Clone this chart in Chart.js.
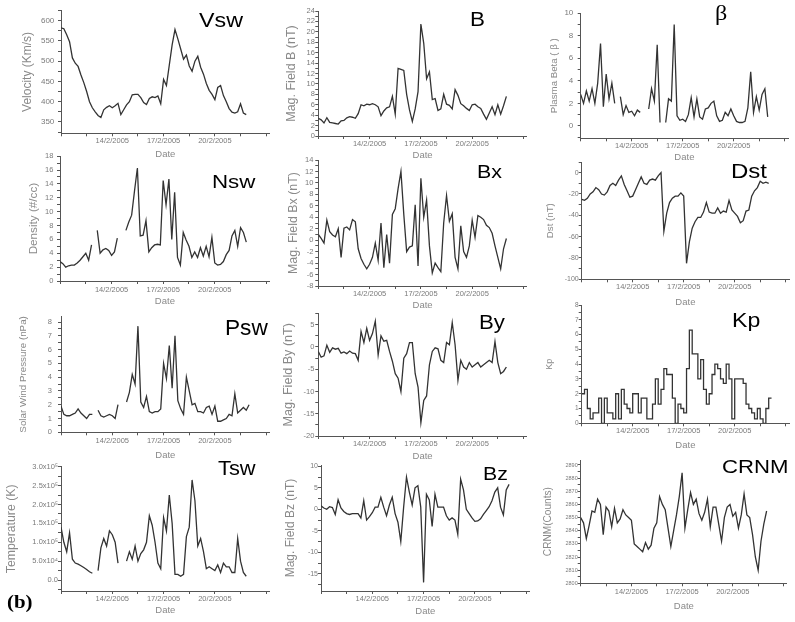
<!DOCTYPE html>
<html>
<head>
<meta charset="utf-8">
<title>Solar wind parameters, February 2005</title>
<script src="https://cdn.jsdelivr.net/npm/chart.js@4/dist/chart.umd.min.js"></script>
<style>
    body { margin: 0; background: #fff; }
    #wrap { position: relative; width: 795px; height: 622px; overflow: hidden; background: #fff; }
    #wrap canvas { position: absolute; }
    .tag { position: absolute; line-height: 1; color: #000; white-space: nowrap; transform-origin: 0 0;
           font-family: "Liberation Sans", Arial, sans-serif; }
</style>
</head>
<body>
<div id="wrap"></div>
<script>
// samples are 4-hourly, first one at 11/2/2005 00:00 (x axis is day of February)
var t0 = 11, dt = 1 / 6;
var dateTicks = [14, 17, 20];
var dateLabels = ['14/2/2005', '17/2/2005', '20/2/2005'];
var xTickValues = [11, 12.5, 14, 15.5, 17, 18.5, 20, 21.5, 23];

var vsw = [582, 580, 565, 548, 508, 495, 487, 466, 447, 425,
    400, 385, 375, 366, 361, 380, 386, 390, 385, 390,
    396, 368, 380, 392, 400, 417, 418, 418, 410, 398,
    393, 408, 412, 410, 414, 395, 455, 440, 490, 540,
    578, 555, 530, 505, 515, 488, 475, 500, 512, 485,
    468, 445, 428, 418, 405, 435, 440, 415, 400, 383,
    374, 372, 375, 395, 372, 368, null];

var bMag = [3.4, 3.1, 2.5, 3.5, 2.6, 2.5, 2.4, 2.3, 2.9, 3.0,
    3.5, 3.7, 3.6, 3.4, 4.3, 6.0, 5.8, 6.1, 6.0, 6.2,
    6.0, 5.6, 3.9, 4.8, 5.4, 5.6, 7.6, 4.2, 13.0, 12.8,
    12.6, 8.0, 5.0, 2.8, 5.2, 8.5, 21.5, 17.8, 11.0, 12.3,
    7.0, 7.2, 4.9, 5.2, 8.0, 6.1, 5.9, 5.2, 8.9, 7.8,
    6.2, 5.8, 5.3, 4.9, 6.0, 6.1, 5.6, 5.3, 4.2, 3.2,
    4.4, 5.6, 4.1, 6.0, 4.2, 5.8, 7.6];

var beta = [2.8, 2.0, 3.1, 2.2, 3.3, 2.0, 3.8, 7.3, 1.7, 4.6,
    2.4, 3.8, 2.0, null, 2.6, 1.0, 1.8, 1.2, 1.3, 0.9,
    1.4, 1.2, null, null, 1.5, 3.3, 2.2, 7.2, 0.3, null,
    0.3, 2.4, 2.2, 9.0, 0.9, 0.5, 0.6, 0.4, 1.0, 2.5,
    0.8, 2.4, 0.8, 0.6, 1.5, 1.6, 2.0, 2.2, 0.9, 0.4,
    0.5, 1.2, 0.9, 1.5, 0.9, 0.4, 0.3, 0.3, 0.4, 1.6,
    4.8, 1.2, 2.6, 1.4, 2.8, 3.3, 0.8];

var nsw = [2.8, 2.5, 2.0, 2.2, 2.3, 2.3, 2.6, 3.0, 3.5, 4.0,
    3.0, 5.2, null, 7.3, 4.0, 4.5, 4.7, 4.4, 3.7, 4.2,
    6.2, null, null, 7.3, 8.5, 9.5, 13.0, 16.3, 6.5, 6.6,
    8.7, 4.2, 4.8, 5.2, 5.3, 5.2, 14.5, 11.0, 14.7, 6.0,
    12.8, 3.4, 2.3, 7.0, 5.9, 5.0, 3.4, 4.2, 3.4, 4.8,
    3.6, 5.0, 3.5, 6.3, 2.6, 2.3, 2.4, 2.8, 3.8, 4.4,
    6.5, 7.3, 5.0, 7.7, 7.0, 5.6, null];

var bx = [1.0, 0.3, -0.5, 3.5, 1.5, 0.9, 0.6, 2.0, -3.0, 2.1,
    2.3, 1.8, 3.6, 3.2, -1.5, -3.2, -4.2, -5.0, -4.2, -3.0,
    -0.5, -3.5, 3.0, -4.8, 1.0, -4.0, 4.5, 5.5, 9.0, 12.0,
    4.5, -2.0, -1.2, -1.0, 6.2, -4.5, 10.8, 4.0, 7.0, -1.0,
    -5.7, -4.0, -4.8, -5.5, 3.0, 7.8, 3.3, 4.6, -3.0, -5.0,
    2.5, -2.0, -3.0, -1.0, 3.5, 0.5, 4.3, 4.0, 3.6, 2.6,
    2.2, 1.2, -1.0, -3.0, -5.0, -1.5, 0.3];

var dst = [-25, -26, -24, -20, -18, -14, -16, -20, -21, -18,
    -12, -10, -12, -7, -3, -11, -17, -23, -22, -16,
    -10, -4, -10, -11, -7, -6, -7, -3, 0, -55,
    -38, -28, -24, -22, -22, -19, -22, -85, -65, -52,
    -46, -42, -42, -37, -28, -37, -38, -38, -33, -38,
    -36, -37, -26, -35, -38, -41, -47, -45, -36, -35,
    -22, -17, -14, -8, -10, -9, -10];

var psw = [1.9, 1.3, 1.2, 1.2, 1.3, 1.4, 1.7, 1.4, 1.2, 1.0,
    1.3, 1.3, null, 1.6, 1.2, 1.1, 1.2, 1.3, 1.2, 1.0,
    2.0, null, null, 2.2, 2.9, 4.2, 3.5, 7.7, 2.2, 1.8,
    2.6, 1.5, 1.4, 1.5, 1.5, 1.7, 5.0, 3.9, 6.3, 3.2,
    7.0, 2.3, 1.7, 1.3, 4.0, 3.0, 2.0, 2.1, 1.5, 1.5,
    1.4, 1.8, 1.9, 1.3, 1.9, 0.8, 0.8, 0.9, 1.0, 1.3,
    1.2, 2.8, 1.4, 1.6, 1.8, 1.6, 2.0];

var by = [-1.0, -2.3, -2.0, 0.4, -1.2, -0.2, -0.5, -0.3, -1.4, -1.1,
    -1.5, -0.9, -1.4, -1.5, -3.0, 3.5, 1.0, 4.2, 1.5, 3.0,
    5.8, -1.8, 2.5, 1.3, 1.5, -1.0, -3.2, -6.0, -7.0, -10.0,
    -2.5, -1.5, 1.0, 1.0, -6.0, -9.0, -17.0, -12.0, -11.0, -4.0,
    -1.0, -0.2, -0.4, -3.0, -3.5, 1.0, 0.5, 5.5, 0.5, -7.5,
    -3.0, -4.5, -5.0, -3.5, -4.5, -4.0, -3.5, -4.5, -4.0, -3.5,
    -3.0, -3.5, 1.2, -3.5, -6.0, -5.5, -4.5];

var kp = [2.0, 2.3, 1.0, 0.3, 0.7, 0.7, 1.7, 0, 1.7, 0.7,
    0.7, 0.3, 2.0, 0.3, 2.3, 1.3, 1.0, 0.7, 2.0, 2.0,
    0.7, 1.7, 1.7, 0.3, 0.3, 1.3, 3.0, 1.3, 2.3, 3.7,
    3.3, 3.3, 1.7, 0, 1.3, 1.0, 0.7, 3.7, 6.3, 4.7,
    4.7, 3.0, 4.3, 2.3, 1.3, 2.0, 3.3, 4.0, 3.7, 3.0,
    2.7, 4.0, 3.0, 0.3, 3.0, 3.0, 3.0, 2.7, 1.3, 1.0,
    0.7, 0.3, 1.0, 0.3, 0.0, 1.0, 1.7, 1.7];

var tsw = [140000, 100000, 75000, 125000, 55000, 45000, 42000, 38000, 33000, 28000,
    22000, 18000, null, 25000, 85000, 110000, 90000, 130000, 120000, 100000,
    45000, null, null, 50000, 75000, 55000, 90000, 50000, 70000, 80000,
    100000, 170000, 145000, 100000, 45000, 30000, 165000, 130000, 225000, 150000,
    15000, 15000, 10000, 15000, 115000, 140000, 265000, 210000, 90000, 110000,
    75000, 30000, 35000, 30000, 25000, 40000, 20000, 45000, 35000, 35000,
    20000, 20000, 110000, 50000, 20000, 10000, null];

var bz = [0.8, 0.3, 0.0, 0.6, 0.4, -1.2, 2.2, 0.3, -0.5, -1.0,
    -1.2, -1.0, -1.0, -1.0, -2.0, 2.0, -2.5, -1.7, -0.8, 0.5,
    0.5, 2.8, 0.5, -1.5, 1.0, 2.8, -1.0, -3.0, -7.5, 0.5,
    7.5, 4.0, 1.0, 5.0, 5.5, 0.5, -17.0, 3.5, 2.2, -4.0,
    3.5, 0.5, 0.5, 0.5, -1.5, -2.5, -2.0, -2.5, -5.8, 7.0,
    4.5, 0.0, -1.0, -2.0, -2.8, -2.7, -2.2, -1.2, -0.3, 0.6,
    2.0, 4.0, 5.0, 0.5, -1.3, 4.5, 5.8];

var crnm = [2850, 2846, 2834, 2844, 2855, 2854, 2864, 2860, 2837, 2858,
    2855, 2843, 2857, 2846, 2849, 2856, 2852, 2850, 2848, 2830,
    2828, 2826, 2824, 2831, 2826, 2829, 2842, 2846, 2866, 2860,
    2856, 2842, 2828, 2840, 2852, 2866, 2884, 2842, 2856, 2869,
    2860, 2864, 2853, 2848, 2854, 2864, 2843, 2858, 2858, 2845,
    2832, 2850, 2858, 2860, 2851, 2854, 2842, 2852, 2868, 2852,
    2850, 2837, 2820, 2810, 2832, 2845, 2855];

// where each panel sits on the page (plot box in page pixels) and its y axis
var panels = [
    {series: vsw, yTitle: 'Velocity (Km/s)', min: 322, max: 625, major: 50, minor: 25,
        col: 0, cw: 272, left: 61, right: 269.6, top: 10, bottom: 133.3,
        labelY: 140.5, dateY: 154, titleX: 27.7, titleSize: 12, yGap: 6.7, tickSize: 8},
    {series: bMag, yTitle: 'Mag. Field B (nT)', min: 0, max: 24, major: 2, minor: 1,
        col: 265, cw: 270, left: 318.3, right: 526.9, top: 11, bottom: 136,
        labelY: 142, dateY: 155, titleX: 291.7, titleSize: 12.5, yGap: 3.5, tickSize: 7.5},
    {series: beta, yTitle: 'Plasma Beta ( \u03b2 )', min: -1.1, max: 10, major: 2, minor: 1,
        col: 530, cw: 265, left: 580.7, right: 788.1, top: 12.3, bottom: 138.3,
        labelY: 146, dateY: 157, titleX: 554, titleSize: 9.7, yGap: 7.4, tickSize: 8},
    {series: nsw, yTitle: 'Density (#/cc)', min: 0, max: 18, major: 2, minor: 1,
        col: 0, cw: 272, left: 60, right: 269.8, top: 156, bottom: 281,
        labelY: 290, dateY: 301.7, titleX: 33.3, titleSize: 11.7, yGap: 6.7, tickSize: 7.5},
    {series: bx, yTitle: 'Mag. Field Bx (nT)', min: -8, max: 14, major: 2, minor: 1,
        col: 265, cw: 270, left: 318.3, right: 526.9, top: 160, bottom: 286,
        labelY: 291.7, dateY: 305, titleX: 293.3, titleSize: 12.4, yGap: 5, tickSize: 7.5},
    {series: dst, yTitle: 'Dst (nT)', min: -100, max: 10, major: 20, minor: 10,
        col: 530, cw: 265, left: 581.7, right: 789.1, top: 162, bottom: 279.3,
        labelY: 286.7, dateY: 302.7, titleX: 550.7, titleSize: 9.7, yGap: 3, tickSize: 7},
    {series: psw, yTitle: 'Solar Wind Pressure (nPa)', min: 0, max: 8.4, major: 1, minor: 0.5,
        col: 0, cw: 272, left: 61, right: 269.6, top: 314, bottom: 432.3,
        labelY: 441, dateY: 455, titleX: 23.3, titleSize: 9.8, yGap: 9, tickSize: 7.5},
    {series: by, yTitle: 'Mag. Field By (nT)', min: -20, max: 7.5, major: 5, minor: 2.5,
        col: 265, cw: 270, left: 318.3, right: 526.9, top: 313.6, bottom: 436,
        labelY: 442.7, dateY: 456, titleX: 289, titleSize: 12.6, yGap: 4, tickSize: 7.5},
    {series: kp, yTitle: 'Kp', min: 0, max: 8, major: 1, minor: 0.5,
        col: 530, cw: 265, left: 581.7, right: 789.1, top: 305, bottom: 423.3,
        labelY: 430.7, dateY: 445.3, titleX: 550, titleSize: 9, yGap: 3, tickSize: 6.5, stepped: true},
    {series: tsw, yTitle: 'Temperature (K)', min: -29000, max: 300000, major: 50000, minor: 25000,
        col: 0, cw: 272, left: 61, right: 269.6, top: 466.7, bottom: 591,
        labelY: 596.7, dateY: 610, titleX: 11.7, titleSize: 12.3, yGap: 2.7, tickSize: 7.5, sci: true},
    {series: bz, yTitle: 'Mag. Field Bz (nT)', min: -19, max: 10.3, major: 5, minor: 2.5,
        col: 265, cw: 270, left: 321, right: 529.6, top: 465, bottom: 591,
        labelY: 598.3, dateY: 611.7, titleX: 291, titleSize: 12, yGap: 2.7, tickSize: 7},
    {series: crnm, yTitle: 'CRNM(Counts)', min: 2800, max: 2893.8, major: 10, minor: 5,
        col: 530, cw: 265, left: 580.7, right: 786.9, top: 460, bottom: 583.3,
        labelY: 591.7, dateY: 606.7, titleX: 548.3, titleSize: 10.1, yGap: 2.7, tickSize: 5.5}
];

// big panel names
var tags = [
    {text: 'Vsw', x: 199, base: 27.3, size: 20.4, sx: 1.14},
    {text: 'B', x: 470, base: 26, size: 20, sx: 1.12},
    {text: '\u03b2', x: 715, base: 20.7, size: 21, sx: 1.15, serif: true},
    {text: 'Nsw', x: 211.7, base: 188.3, size: 18.6, sx: 1.2},
    {text: 'Bx', x: 476.7, base: 178.3, size: 18.6, sx: 1.15},
    {text: 'Dst', x: 730.7, base: 178.3, size: 20, sx: 1.2},
    {text: 'Psw', x: 225, base: 336, size: 22, sx: 1.03},
    {text: 'By', x: 479, base: 329.3, size: 20, sx: 1.11},
    {text: 'Kp', x: 731.7, base: 326.7, size: 21, sx: 1.1},
    {text: 'Tsw', x: 218, base: 475, size: 21, sx: 1.04},
    {text: 'Bz', x: 483, base: 481, size: 18.5, sx: 1.15},
    {text: 'CRNM', x: 721.7, base: 473.3, size: 18.6, sx: 1.19},
    {text: '(b)', x: 7.3, base: 608, size: 19, sx: 1.1, serif: true, bold: true}
];

var axisColor = '#555';
var textColor = '#7a7a7a';
var titleColor = '#8a8a8a';

Chart.defaults.font.family = '"Liberation Sans", Arial, sans-serif';

var SUP = {'0': '\u2070', '1': '\u00b9', '2': '\u00b2', '3': '\u00b3', '4': '\u2074',
    '5': '\u2075', '6': '\u2076', '7': '\u2077', '8': '\u2078', '9': '\u2079'};

function sciLabel(v) {
    if (v === 0) return '0.0';
    var e = Math.floor(Math.log10(v) + 1e-9);
    var m = v / Math.pow(10, e);
    return m.toFixed(1) + 'x10' + String(e).split('').map(function(c) { return SUP[c]; }).join('');
}

function isMajor(v, p) {
    var r = v / p.major;
    return Math.abs(r - Math.round(r)) < 1e-6;
}

function yTickList(p) {
    var out = [];
    var k0 = Math.ceil(p.min / p.minor - 1e-9),
        k1 = Math.floor(p.max / p.minor + 1e-9);
    for (var k = k0; k <= k1; k++) {
        out.push({value: +(k * p.minor).toFixed(6)});
    }
    return out;
}

function makePanel(p) {
    var wrap = document.getElementById('wrap');
    var cTop = Math.round(p.top - 8);
    var H = Math.round(p.dateY + 9 - cTop);
    var canvas = document.createElement('canvas');
    canvas.width = p.cw;
    canvas.height = H;
    canvas.style.left = p.col + 'px';
    canvas.style.top = cTop + 'px';
    canvas.style.width = p.cw + 'px';
    canvas.style.height = H + 'px';
    wrap.appendChild(canvas);

    var yw = p.left - p.col,
        xh = H - (p.bottom - cTop),
        padTop = p.top - cTop,
        padRight = p.cw - (p.right - p.col),
        xTickPad = Math.max(0, p.labelY - 4.5 - 3 - p.bottom),
        xTitlePad = Math.max(0, (cTop + H) - p.dateY - 5.7),
        yTitlePad = p.titleX - p.col - 0.6 * p.titleSize,
        yTickPad = Math.max(0, p.yGap - 3);

    var points = p.series.map(function(v, i) {
        return {x: t0 + i * dt, y: v};
    });

    return new Chart(canvas.getContext('2d'), {
        type: 'line',
        data: {
            datasets: [{
                data: points,
                borderColor: '#333',
                borderWidth: 1.3,
                pointRadius: 0,
                tension: 0,
                spanGaps: false,
                stepped: p.stepped ? true : false
            }]
        },
        options: {
            responsive: false,
            animation: false,
            events: [],
            layout: {padding: {top: padTop, right: padRight, left: 0, bottom: 0}},
            plugins: {legend: {display: false}, tooltip: {enabled: false}},
            scales: {
                x: {
                    type: 'linear',
                    min: 11,
                    max: 23.2,
                    afterBuildTicks: function(s) {
                        s.ticks = xTickValues.map(function(v) { return {value: v}; });
                    },
                    afterFit: function(s) { s.height = xh; },
                    ticks: {
                        autoSkip: false, maxRotation: 0, minRotation: 0,
                        padding: xTickPad, color: textColor, font: {size: 7.5},
                        callback: function(v) {
                            var k = dateTicks.indexOf(v);
                            return k >= 0 ? dateLabels[k] : '';
                        }
                    },
                    grid: {drawOnChartArea: false, tickLength: 3, color: axisColor},
                    border: {color: axisColor, width: 1},
                    title: {display: true, text: 'Date', color: titleColor, font: {size: 9.5},
                        padding: {top: 0, bottom: xTitlePad}}
                },
                y: {
                    type: 'linear',
                    min: p.min,
                    max: p.max,
                    afterBuildTicks: function(s) { s.ticks = yTickList(p); },
                    afterFit: function(s) { s.width = yw; },
                    ticks: {
                        autoSkip: false, padding: yTickPad, color: textColor, font: {size: p.tickSize},
                        callback: function(v) {
                            if (!isMajor(v, p)) return '';
                            return p.sci ? sciLabel(v) : String(v);
                        }
                    },
                    grid: {drawOnChartArea: false, tickLength: 3, color: axisColor},
                    border: {color: axisColor, width: 1},
                    title: {display: true, text: p.yTitle, color: titleColor, font: {size: p.titleSize},
                        padding: {top: yTitlePad, bottom: 0}}
                }
            }
        }
    });
}

panels.forEach(makePanel);

tags.forEach(function(t) {
    var d = document.createElement('div');
    d.className = 'tag';
    d.textContent = t.text;
    if (t.serif) d.style.fontFamily = '"Liberation Serif", "Times New Roman", serif';
    if (t.bold) d.style.fontWeight = 'bold';
    d.style.fontSize = t.size + 'px';
    d.style.left = t.x + 'px';
    d.style.top = (t.base - (t.serif ? 0.8375 : 0.8465) * t.size) + 'px';
    d.style.transform = 'scaleX(' + t.sx + ')';
    document.getElementById('wrap').appendChild(d);
});
</script>
</body>
</html>
